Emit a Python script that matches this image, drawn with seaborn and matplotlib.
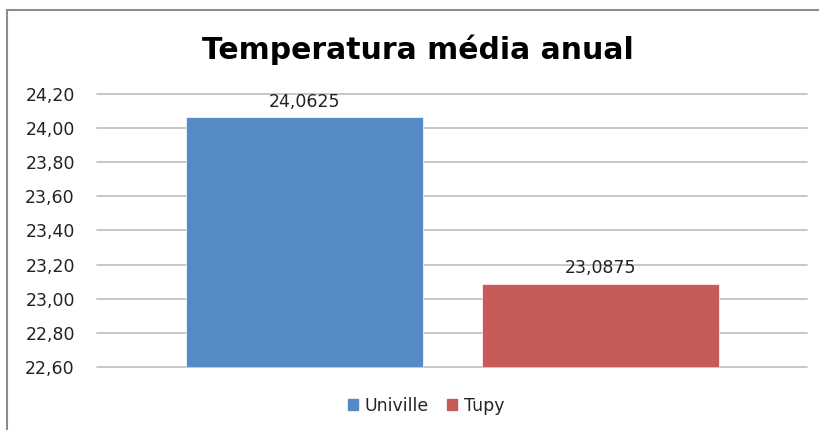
import matplotlib
matplotlib.use("Agg")
import matplotlib.pyplot as plt
import seaborn as sns
import pandas as pd
from matplotlib.ticker import FuncFormatter, MultipleLocator
from matplotlib.patches import Rectangle

# -------------------------------------------------------
# DATA
# -------------------------------------------------------
stations = ["Univille", "Tupy"]
mean_temp = [24.0625, 23.0875]
bar_colors = ["#568AC6", "#C75B59"]

df = pd.DataFrame({"Estacao": stations, "Temperatura": mean_temp})

# -------------------------------------------------------
# PLOT
# -------------------------------------------------------
sns.set_style("white")
plt.rcParams["font.family"] = ["DejaVu Sans"]

fig = plt.figure(figsize=(8.19, 4.30), dpi=100)
ax = fig.add_axes([97 / 819, 1 - 367 / 430, 710 / 819, 273 / 430])

sns.barplot(data=df, x="Estacao", y="Temperatura", hue="Estacao",
            palette=bar_colors, saturation=1, width=0.802, ax=ax, legend=False,
            edgecolor="white", linewidth=0.5)

ax.set_ylim(22.6, 24.2)
ax.set_xlim(-0.702, 1.700)
ax.yaxis.set_major_locator(MultipleLocator(0.2))
ax.yaxis.set_major_formatter(FuncFormatter(lambda v, p: f"{v:.2f}".replace(".", ",")))
ax.grid(axis="y", color="#BEBEBE", linewidth=1.2)
ax.set_axisbelow(True)
# keep the top and bottom gridlines at full thickness
for gl in ax.get_ygridlines():
    gl.set_clip_on(False)
for s in ax.spines.values():
    s.set_visible(False)
ax.set_xticks([])
ax.set_xlabel("")
ax.set_ylabel("")
ax.tick_params(axis="y", length=0, pad=16, labelsize=12.5, labelcolor="#222222")

# data labels
for i, v in enumerate(mean_temp):
    ax.text(i, v + 0.04, f"{v:.4f}".replace(".", ","), ha="center", va="bottom",
            fontsize=12.5, color="#222222")

# title
fig.text(418 / 819, 1 - 50 / 430, "Temperatura média anual", ha="center", va="center",
         fontsize=21.5, fontweight="bold", color="black")

# legend
handles = [plt.Rectangle((0, 0), 1, 1, color=c) for c in bar_colors]
fig.legend(handles, stations, loc="center", bbox_to_anchor=(426 / 819, 1 - 406 / 430),
           ncol=2, frameon=False, fontsize=12.5, handlelength=0.6, handleheight=0.6,
           handletextpad=0.4, columnspacing=1.0)

# chart border
fig.patches.append(Rectangle((7 / 819, -0.1), 1.2, 1 - 10 / 430 + 0.1,
                             transform=fig.transFigure, fill=False,
                             edgecolor="#8C8C8C", linewidth=1.5))

fig.savefig("out.png", dpi=100)
